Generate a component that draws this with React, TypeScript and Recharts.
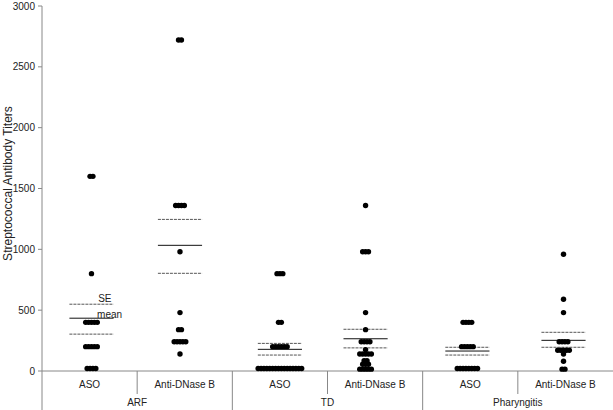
import React from 'react';
import {
  ScatterChart,
  Scatter,
  XAxis,
  YAxis,
  ReferenceLine,
  ReferenceDot,
} from 'recharts';

// category labels (bottom axis, two levels)
const subLabels = ['ASO', 'Anti-DNase B', 'ASO', 'Anti-DNase B', 'ASO', 'Anti-DNase B'];
const groupLabels = ['ARF', 'TD', 'Pharyngitis'];
const yTicks = [0, 500, 1000, 1500, 2000, 2500, 3000];

// individual titers per column
const arfAso = [1600, 1600, 800, 400, 400, 400, 400, 400, 200, 200, 200, 200, 200, 20, 20, 20, 20];
const arfAnti = [2720, 2720, 1360, 1360, 1360, 1360, 980, 480, 340, 340, 240, 240, 240, 240, 240, 140];
const tdAso = [
  800, 800, 800, 400, 400, 200, 200, 200, 200, 200, 200,
  20, 20, 20, 20, 20, 20, 20, 20, 20, 20, 20, 20, 20, 20, 20, 20,
];
const tdAnti = [
  1360, 980, 980, 980, 480, 340, 240, 240, 240, 240, 175,
  140, 140, 140, 140, 140, 85, 85, 55, 55, 55, 15, 15, 15, 15, 15,
];
const pharAso = [400, 400, 400, 400, 200, 200, 200, 200, 200, 20, 20, 20, 20, 20, 20, 20, 20];
const pharAnti = [960, 590, 480, 240, 240, 240, 240, 170, 170, 170, 170, 170, 140, 80, 15, 15];

// mean and +/- SE lines per column
const means = [434, 1033, 178, 265, 164, 252];
const seHigh = [549, 1246, 227, 343, 195, 318];
const seLow = [303, 803, 131, 190, 131, 195];

// where each column's dots sit on the category axis (0..6)
const colPos = [0.52, 1.45, 2.5, 3.4, 4.47, 5.48];

const columns = [arfAso, arfAnti, tdAso, tdAnti, pharAso, pharAnti];

const DOT_STEP = 0.0305; // horizontal spacing of tied values, in x units
const HALF_LINE = 0.232;

// spread equal values side by side around the column position
function layout(values: number[], pos: number) {
  const counts: Record<number, number> = {};
  values.forEach((v) => (counts[v] = (counts[v] || 0) + 1));
  const seen: Record<number, number> = {};
  return values.map((v) => {
    const n = counts[v];
    const i = seen[v] || 0;
    seen[v] = i + 1;
    return { x: pos + (i - (n - 1) / 2) * DOT_STEP, y: v };
  });
}

const Dot = (props: any) => <circle cx={props.cx} cy={props.cy} r={2.7} fill="#000" />;

const CatTick = (props: any) => {
  const { x, y, payload } = props;
  const v = payload.value as number;
  const txt = { fontSize: 10, fill: '#222', textAnchor: 'middle' as const };
  if (v % 1 !== 0) {
    const idx = Math.round(v - 0.5);
    return (
      <text x={x} y={y + 17} {...txt}>
        {subLabels[idx]}
      </text>
    );
  }
  if (v >= 6) return null;
  if (v % 2 === 0) {
    return <line x1={x} x2={x} y1={y} y2={y + 40} stroke="#888" />;
  }
  return (
    <g>
      <line x1={x} x2={x} y1={y} y2={y + 23} stroke="#888" />
      <text x={x} y={y + 35} {...txt}>
        {groupLabels[(v - 1) / 2]}
      </text>
    </g>
  );
};

const catTicks = [0, 0.5, 1, 1.5, 2, 2.5, 3, 3.5, 4, 4.5, 5, 5.5, 6];

export default function App() {
  return (
    <div style={{ position: 'absolute', left: 0, top: 0, fontFamily: '"Liberation Sans", Arial, sans-serif' }}>
      <ScatterChart width={613} height={410} margin={{ top: 6, right: 0, left: 0, bottom: 0 }}>
        <XAxis
          type="number"
          dataKey="x"
          domain={[0, 6]}
          ticks={catTicks}
          interval={0}
          allowDataOverflow
          tick={<CatTick />}
          tickLine={false}
          tickSize={0}
          tickMargin={0}
          height={39}
          stroke="#888"
        />
        <YAxis
          type="number"
          dataKey="y"
          domain={[0, 3000]}
          ticks={yTicks}
          interval={0}
          width={42}
          tickSize={4}
          tickMargin={3}
          stroke="#888"
          tick={{ fontSize: 10, fill: '#222' }}
          label={{
            value: 'Streptococcal Antibody Titers',
            angle: -90,
            position: 'insideLeft',
            dx: 3,
            dy: -5,
            style: { textAnchor: 'middle', fontSize: 12, fill: '#222' },
          }}
        />
        {columns.map((vals, i) => (
          <Scatter
            key={i}
            data={layout(vals, colPos[i])}
            shape={<Dot />}
            isAnimationActive={false}
          />
        ))}
        {columns.map((_, i) => (
          <ReferenceLine
            key={'m' + i}
            segment={[{ x: colPos[i] - HALF_LINE, y: means[i] }, { x: colPos[i] + HALF_LINE, y: means[i] }]}
            stroke="#111"
            strokeWidth={1}
          />
        ))}
        {columns.map((_, i) => (
          <ReferenceLine
            key={'h' + i}
            segment={[{ x: colPos[i] - HALF_LINE, y: seHigh[i] }, { x: colPos[i] + HALF_LINE, y: seHigh[i] }]}
            stroke="#555"
            strokeDasharray="3 1"
          />
        ))}
        {columns.map((_, i) => (
          <ReferenceLine
            key={'l' + i}
            segment={[{ x: colPos[i] - HALF_LINE, y: seLow[i] }, { x: colPos[i] + HALF_LINE, y: seLow[i] }]}
            stroke="#555"
            strokeDasharray="3 1"
          />
        ))}
        <ReferenceDot
          x={colPos[0] + 0.14}
          y={seHigh[0]}
          r={0}
          fill="none"
          stroke="none"
          label={{ value: 'SE', position: 'top', offset: 2, fontSize: 10, fill: '#222' }}
        />
        <ReferenceDot
          x={colPos[0] + 0.19}
          y={means[0]}
          r={0}
          fill="none"
          stroke="none"
          label={{ value: 'mean', position: 'top', offset: 0, fontSize: 10, fill: '#222' }}
        />
      </ScatterChart>
    </div>
  );
}
